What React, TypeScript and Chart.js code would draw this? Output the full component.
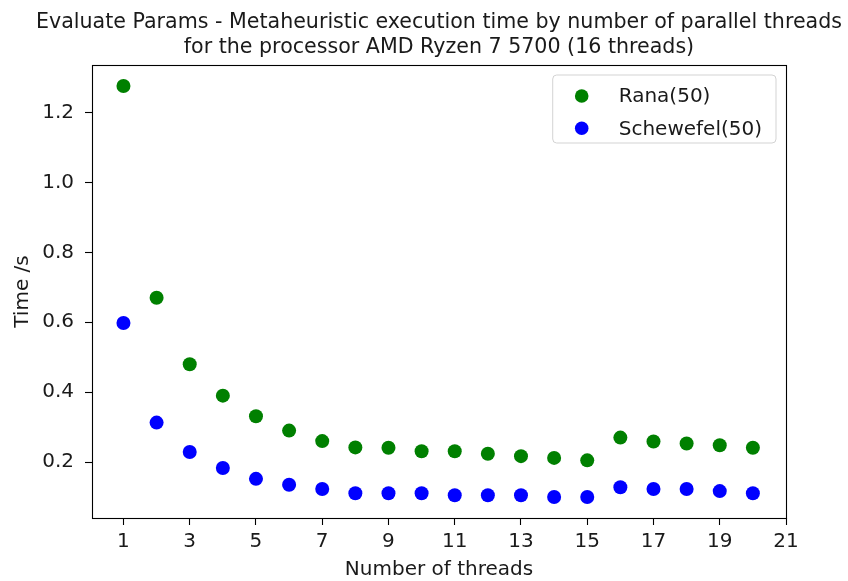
import React, { useEffect, useRef } from 'react';
import { Chart, registerables } from 'chart.js';

Chart.register(...registerables);

const titleLines = [
  'Evaluate Params - Metaheuristic execution time by number of parallel threads',
  'for the processor AMD Ryzen 7 5700 (16 threads)',
];
const xLabel = 'Number of threads';
const yLabel = 'Time /s';
const seriesNames = ['Rana(50)', 'Schewefel(50)'];

const threads = [1, 2, 3, 4, 5, 6, 7, 8, 9, 10, 11, 12, 13, 14, 15, 16, 17, 18, 19, 20];
const ranaTimes = [1.276, 0.670, 0.480, 0.390, 0.331, 0.290, 0.260, 0.242, 0.241, 0.231, 0.231, 0.224, 0.217, 0.212, 0.205, 0.270, 0.259, 0.253, 0.248, 0.241];
const schewefelTimes = [0.598, 0.313, 0.229, 0.183, 0.152, 0.135, 0.123, 0.111, 0.111, 0.111, 0.105, 0.105, 0.105, 0.100, 0.100, 0.128, 0.123, 0.123, 0.117, 0.111];

const xTicks = [1, 3, 5, 7, 9, 11, 13, 15, 17, 19, 21];
const yTicks = [0.2, 0.4, 0.6, 0.8, 1.0, 1.2];

const FONT = '"DejaVu Sans", sans-serif';
const TEXT = '#1a1a1a';

const mplPlugin = {
  id: 'mplDecor',
  beforeDraw(chart: any) {
    const { ctx, width, height } = chart;
    ctx.save();
    ctx.fillStyle = '#ffffff';
    ctx.fillRect(0, 0, width, height);
    ctx.restore();
  },
  afterDraw(chart: any) {
    const { ctx, chartArea: a } = chart;
    ctx.save();
    // frame (all four spines)
    ctx.strokeStyle = '#000';
    ctx.lineWidth = 1.1;
    const l = Math.round(a.left) + 0.5;
    const r = Math.round(a.right) + 0.5;
    const t = Math.round(a.top) + 0.5;
    const b = Math.round(a.bottom) + 0.5;
    ctx.strokeRect(l, t, r - l, b - t);

    // title
    const cx = (a.left + a.right) / 2;
    ctx.fillStyle = TEXT;
    ctx.font = `20.6px ${FONT}`;
    ctx.textAlign = 'center';
    ctx.textBaseline = 'alphabetic';
    ctx.fillText(titleLines[0], cx, 28);
    ctx.fillText(titleLines[1], cx, 52.6);

    // legend
    const ds = chart.data.datasets;
    ctx.font = `20px ${FONT}`;
    let maxW = 0;
    ds.forEach((d: any) => { maxW = Math.max(maxW, ctx.measureText(d.label).width); });
    const boxW = maxW + 80;
    const boxH = 68;
    const right = a.right - 10;
    const top = a.top + 10;
    const left = right - boxW;
    const rad = 4;
    ctx.beginPath();
    ctx.moveTo(left + rad, top);
    ctx.lineTo(right - rad, top);
    ctx.arcTo(right, top, right, top + rad, rad);
    ctx.lineTo(right, top + boxH - rad);
    ctx.arcTo(right, top + boxH, right - rad, top + boxH, rad);
    ctx.lineTo(left + rad, top + boxH);
    ctx.arcTo(left, top + boxH, left, top + boxH - rad, rad);
    ctx.lineTo(left, top + rad);
    ctx.arcTo(left, top, left + rad, top, rad);
    ctx.closePath();
    ctx.fillStyle = 'rgba(255,255,255,0.8)';
    ctx.fill();
    ctx.strokeStyle = '#d3d3d3';
    ctx.lineWidth = 1;
    ctx.stroke();
    ds.forEach((d: any, i: number) => {
      const y = top + 21 + i * 32.3;
      ctx.beginPath();
      ctx.arc(left + 29, y, 6.8, 0, Math.PI * 2);
      ctx.fillStyle = d.backgroundColor;
      ctx.fill();
      ctx.fillStyle = TEXT;
      ctx.textAlign = 'left';
      ctx.textBaseline = 'middle';
      ctx.fillText(d.label, left + 66, y + 1);
    });
    ctx.restore();
  },
};

export default function App() {
  const canvasRef = useRef<HTMLCanvasElement | null>(null);

  useEffect(() => {
    document.body.style.margin = '0';
    const canvas = canvasRef.current;
    if (!canvas) return;
    Chart.defaults.font.family = FONT;
    const chart = new Chart(canvas, {
      type: 'scatter',
      data: {
        datasets: [
          {
            label: seriesNames[0],
            data: threads.map((t, i) => ({ x: t, y: ranaTimes[i] })),
            backgroundColor: '#008000',
            borderColor: '#008000',
            pointRadius: 7,
            pointBorderWidth: 0,
          },
          {
            label: seriesNames[1],
            data: threads.map((t, i) => ({ x: t, y: schewefelTimes[i] })),
            backgroundColor: '#0000ff',
            borderColor: '#0000ff',
            pointRadius: 7,
            pointBorderWidth: 0,
          },
        ],
      },
      options: {
        animation: false,
        responsive: true,
        maintainAspectRatio: false,
        devicePixelRatio: 1,
        layout: { padding: { top: 65, right: 62, left: 0, bottom: 0 } },
        plugins: {
          legend: { display: false },
          tooltip: { enabled: false },
          title: { display: false },
        },
        scales: {
          x: {
            type: 'linear',
            position: 'bottom',
            min: 0.05,
            max: 21,
            afterFit: (s: any) => { s.height = 63; },
            afterBuildTicks: (s: any) => { s.ticks = xTicks.map((v) => ({ value: v })); },
            ticks: {
              autoSkip: false,
              maxRotation: 0,
              padding: 5,
              color: TEXT,
              font: { family: FONT, size: 20 },
              callback: (v: any) => String(v),
            },
            grid: { display: true, drawOnChartArea: false, drawTicks: true, tickLength: 7, tickColor: '#000', tickWidth: 1.1 },
            border: { display: false },
            title: {
              display: true,
              text: xLabel,
              color: TEXT,
              font: { family: FONT, size: 20, lineHeight: 1 },
              padding: { top: 0, bottom: 1 },
            },
          },
          y: {
            type: 'linear',
            min: 0.04,
            max: 1.336,
            afterFit: (s: any) => { s.width = 92; },
            afterBuildTicks: (s: any) => { s.ticks = yTicks.map((v) => ({ value: v })); },
            ticks: {
              autoSkip: false,
              padding: 11,
              color: TEXT,
              font: { family: FONT, size: 20 },
              callback: (v: any) => Number(v).toFixed(1),
            },
            grid: { display: true, drawOnChartArea: false, drawTicks: true, tickLength: 7, tickColor: '#000', tickWidth: 1.1 },
            border: { display: false },
            title: {
              display: true,
              text: yLabel,
              color: TEXT,
              font: { family: FONT, size: 20, lineHeight: 1 },
              padding: { top: 13, bottom: 0 },
            },
          },
        },
      },
      plugins: [mplPlugin],
    } as any);
    return () => chart.destroy();
  }, []);

  return (
    <div style={{ position: 'relative', width: '848px', height: '581px' }}>
      <canvas ref={canvasRef} />
    </div>
  );
}
